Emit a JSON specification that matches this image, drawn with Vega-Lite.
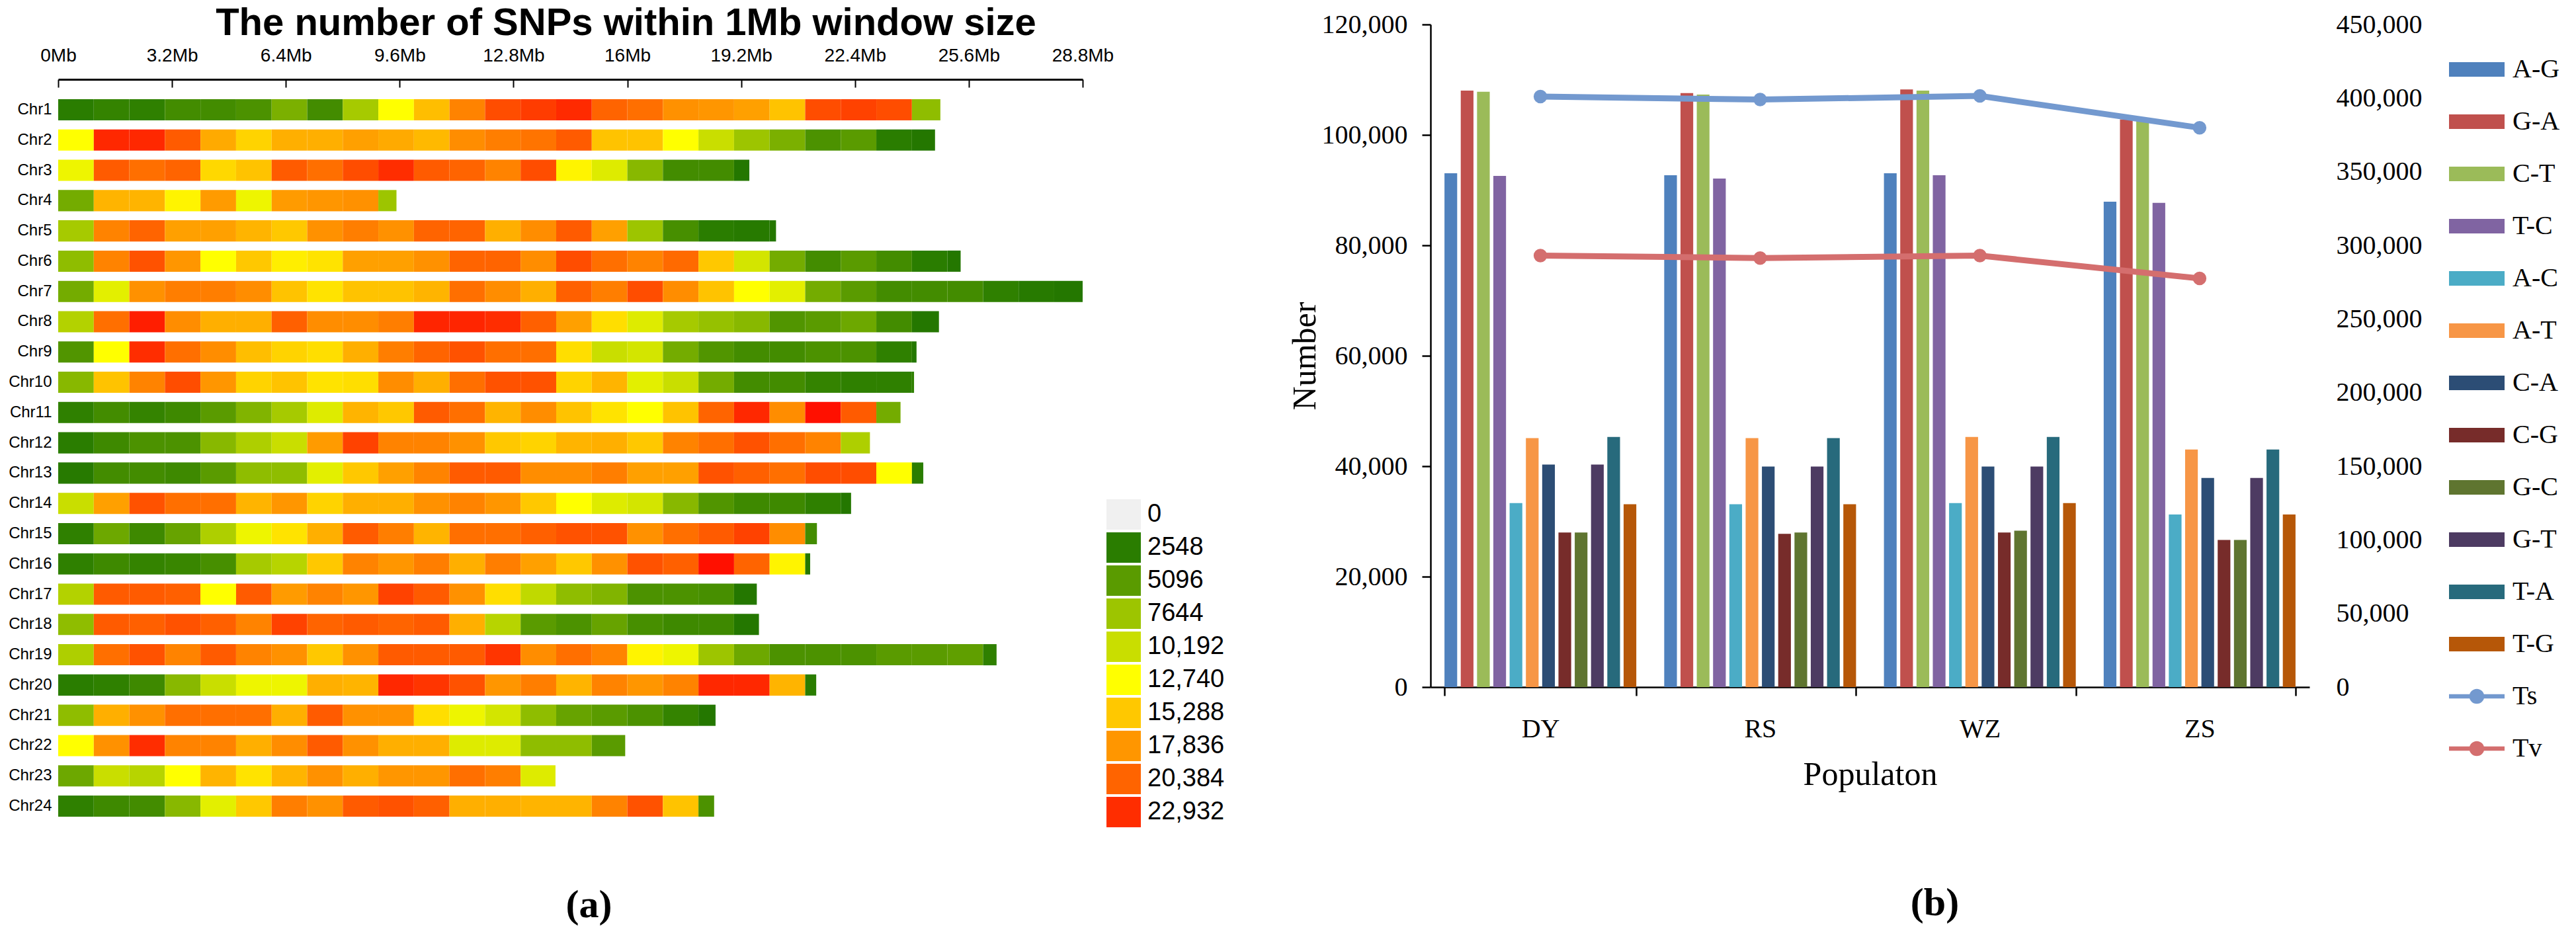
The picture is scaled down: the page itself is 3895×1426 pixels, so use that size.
{
  "$schema": "https://vega.github.io/schema/vega-lite/v6.json",
  "background": "white",
  "padding": {"left": 12, "top": 6, "right": 0, "bottom": 0},
  "spacing": 96,
  "config": {"view": {"stroke": null}},
  "resolve": {"scale": {"color": "independent", "x": "independent", "y": "independent"}, "legend": {"color": "independent"}},
  "hconcat": [
    {
      "width": 1549,
      "height": 1370,
      "title": {"text": "(a)", "orient": "bottom", "font": "Liberation Serif", "fontSize": 60, "fontWeight": "bold", "color": "#000", "offset": -67, "anchor": "middle", "frame": "group", "dx": 28, "baseline": "top"},
      "data": {"values": [
        {"c":"Chr1","s":0,"e":1,"v":2548},{"c":"Chr1","s":1,"e":2,"v":3058},{"c":"Chr1","s":2,"e":3,"v":2803},{"c":"Chr1","s":3,"e":4,"v":3822},{"c":"Chr1","s":4,"e":5,"v":3822},{"c":"Chr1","s":5,"e":6,"v":4332},{"c":"Chr1","s":6,"e":7,"v":6370},{"c":"Chr1","s":7,"e":8,"v":3822},{"c":"Chr1","s":8,"e":9,"v":8154},{"c":"Chr1","s":9,"e":10,"v":12740},{"c":"Chr1","s":10,"e":11,"v":15798},{"c":"Chr1","s":11,"e":12,"v":18855},{"c":"Chr1","s":12,"e":13,"v":21658},{"c":"Chr1","s":13,"e":14,"v":22422},{"c":"Chr1","s":14,"e":15,"v":23187},{"c":"Chr1","s":15,"e":16,"v":20384},{"c":"Chr1","s":16,"e":17,"v":19874},{"c":"Chr1","s":17,"e":18,"v":18091},{"c":"Chr1","s":18,"e":19,"v":17836},{"c":"Chr1","s":19,"e":20,"v":17326},{"c":"Chr1","s":20,"e":21,"v":15543},{"c":"Chr1","s":21,"e":22,"v":21658},{"c":"Chr1","s":22,"e":23,"v":22168},{"c":"Chr1","s":23,"e":24,"v":21658},{"c":"Chr1","s":24,"e":24.8,"v":7134},
        {"c":"Chr2","s":0,"e":1,"v":12740},{"c":"Chr2","s":1,"e":2,"v":23442},{"c":"Chr2","s":2,"e":3,"v":23442},{"c":"Chr2","s":3,"e":4,"v":20894},{"c":"Chr2","s":4,"e":5,"v":16817},{"c":"Chr2","s":5,"e":6,"v":14778},{"c":"Chr2","s":6,"e":7,"v":16562},{"c":"Chr2","s":7,"e":8,"v":16562},{"c":"Chr2","s":8,"e":9,"v":17326},{"c":"Chr2","s":9,"e":10,"v":16817},{"c":"Chr2","s":10,"e":11,"v":16052},{"c":"Chr2","s":11,"e":12,"v":18346},{"c":"Chr2","s":12,"e":13,"v":19110},{"c":"Chr2","s":13,"e":14,"v":19620},{"c":"Chr2","s":14,"e":15,"v":20894},{"c":"Chr2","s":15,"e":16,"v":15543},{"c":"Chr2","s":16,"e":17,"v":15543},{"c":"Chr2","s":17,"e":18,"v":12740},{"c":"Chr2","s":18,"e":19,"v":10192},{"c":"Chr2","s":19,"e":20,"v":7644},{"c":"Chr2","s":20,"e":21,"v":6370},{"c":"Chr2","s":21,"e":22,"v":4332},{"c":"Chr2","s":22,"e":23,"v":5096},{"c":"Chr2","s":23,"e":24,"v":2548},{"c":"Chr2","s":24,"e":24.65,"v":2038},
        {"c":"Chr3","s":0,"e":1,"v":11976},{"c":"Chr3","s":1,"e":2,"v":20894},{"c":"Chr3","s":2,"e":3,"v":19874},{"c":"Chr3","s":3,"e":4,"v":20384},{"c":"Chr3","s":4,"e":5,"v":14524},{"c":"Chr3","s":5,"e":6,"v":15543},{"c":"Chr3","s":6,"e":7,"v":20894},{"c":"Chr3","s":7,"e":8,"v":19874},{"c":"Chr3","s":8,"e":9,"v":21658},{"c":"Chr3","s":9,"e":10,"v":22932},{"c":"Chr3","s":10,"e":11,"v":20894},{"c":"Chr3","s":11,"e":12,"v":20384},{"c":"Chr3","s":12,"e":13,"v":18855},{"c":"Chr3","s":13,"e":14,"v":21658},{"c":"Chr3","s":14,"e":15,"v":13250},{"c":"Chr3","s":15,"e":16,"v":11211},{"c":"Chr3","s":16,"e":17,"v":6880},{"c":"Chr3","s":17,"e":18,"v":3822},{"c":"Chr3","s":18,"e":19,"v":3822},{"c":"Chr3","s":19,"e":19.43,"v":2038},
        {"c":"Chr4","s":0,"e":1,"v":6115},{"c":"Chr4","s":1,"e":2,"v":16307},{"c":"Chr4","s":2,"e":3,"v":16307},{"c":"Chr4","s":3,"e":4,"v":13250},{"c":"Chr4","s":4,"e":5,"v":17581},{"c":"Chr4","s":5,"e":6,"v":11976},{"c":"Chr4","s":6,"e":7,"v":17581},{"c":"Chr4","s":7,"e":8,"v":17836},{"c":"Chr4","s":8,"e":9,"v":18091},{"c":"Chr4","s":9,"e":9.51,"v":7644},
        {"c":"Chr5","s":0,"e":1,"v":8154},{"c":"Chr5","s":1,"e":2,"v":18855},{"c":"Chr5","s":2,"e":3,"v":20384},{"c":"Chr5","s":3,"e":4,"v":17326},{"c":"Chr5","s":4,"e":5,"v":17326},{"c":"Chr5","s":5,"e":6,"v":16307},{"c":"Chr5","s":6,"e":7,"v":15288},{"c":"Chr5","s":7,"e":8,"v":18091},{"c":"Chr5","s":8,"e":9,"v":19110},{"c":"Chr5","s":9,"e":10,"v":18091},{"c":"Chr5","s":10,"e":11,"v":20384},{"c":"Chr5","s":11,"e":12,"v":20384},{"c":"Chr5","s":12,"e":13,"v":16562},{"c":"Chr5","s":13,"e":14,"v":18346},{"c":"Chr5","s":14,"e":15,"v":20894},{"c":"Chr5","s":15,"e":16,"v":17326},{"c":"Chr5","s":16,"e":17,"v":7644},{"c":"Chr5","s":17,"e":18,"v":4077},{"c":"Chr5","s":18,"e":19,"v":2548},{"c":"Chr5","s":19,"e":20,"v":2293},{"c":"Chr5","s":20,"e":20.18,"v":2038},
        {"c":"Chr6","s":0,"e":1,"v":7134},{"c":"Chr6","s":1,"e":2,"v":18855},{"c":"Chr6","s":2,"e":3,"v":21403},{"c":"Chr6","s":3,"e":4,"v":17836},{"c":"Chr6","s":4,"e":5,"v":12740},{"c":"Chr6","s":5,"e":6,"v":15288},{"c":"Chr6","s":6,"e":7,"v":13504},{"c":"Chr6","s":7,"e":8,"v":14014},{"c":"Chr6","s":8,"e":9,"v":17326},{"c":"Chr6","s":9,"e":10,"v":17326},{"c":"Chr6","s":10,"e":11,"v":18091},{"c":"Chr6","s":11,"e":12,"v":20384},{"c":"Chr6","s":12,"e":13,"v":20384},{"c":"Chr6","s":13,"e":14,"v":18346},{"c":"Chr6","s":14,"e":15,"v":21658},{"c":"Chr6","s":15,"e":16,"v":19874},{"c":"Chr6","s":16,"e":17,"v":18855},{"c":"Chr6","s":17,"e":18,"v":20129},{"c":"Chr6","s":18,"e":19,"v":15288},{"c":"Chr6","s":19,"e":20,"v":10702},{"c":"Chr6","s":20,"e":21,"v":6115},{"c":"Chr6","s":21,"e":22,"v":3822},{"c":"Chr6","s":22,"e":23,"v":5096},{"c":"Chr6","s":23,"e":24,"v":3822},{"c":"Chr6","s":24,"e":25,"v":2548},{"c":"Chr6","s":25,"e":25.37,"v":2038},
        {"c":"Chr7","s":0,"e":1,"v":6115},{"c":"Chr7","s":1,"e":2,"v":11466},{"c":"Chr7","s":2,"e":3,"v":18091},{"c":"Chr7","s":3,"e":4,"v":19110},{"c":"Chr7","s":4,"e":5,"v":19110},{"c":"Chr7","s":5,"e":6,"v":18346},{"c":"Chr7","s":6,"e":7,"v":15543},{"c":"Chr7","s":7,"e":8,"v":14014},{"c":"Chr7","s":8,"e":9,"v":15543},{"c":"Chr7","s":9,"e":10,"v":15543},{"c":"Chr7","s":10,"e":11,"v":16307},{"c":"Chr7","s":11,"e":12,"v":19874},{"c":"Chr7","s":12,"e":13,"v":18346},{"c":"Chr7","s":13,"e":14,"v":16562},{"c":"Chr7","s":14,"e":15,"v":20639},{"c":"Chr7","s":15,"e":16,"v":19110},{"c":"Chr7","s":16,"e":17,"v":21658},{"c":"Chr7","s":17,"e":18,"v":18346},{"c":"Chr7","s":18,"e":19,"v":15543},{"c":"Chr7","s":19,"e":20,"v":12740},{"c":"Chr7","s":20,"e":21,"v":11466},{"c":"Chr7","s":21,"e":22,"v":6115},{"c":"Chr7","s":22,"e":23,"v":5096},{"c":"Chr7","s":23,"e":24,"v":3822},{"c":"Chr7","s":24,"e":25,"v":3822},{"c":"Chr7","s":25,"e":26,"v":3822},{"c":"Chr7","s":26,"e":27,"v":2803},{"c":"Chr7","s":27,"e":28,"v":2293},{"c":"Chr7","s":28,"e":28.8,"v":2038},
        {"c":"Chr8","s":0,"e":1,"v":8918},{"c":"Chr8","s":1,"e":2,"v":19874},{"c":"Chr8","s":2,"e":3,"v":24206},{"c":"Chr8","s":3,"e":4,"v":18346},{"c":"Chr8","s":4,"e":5,"v":16562},{"c":"Chr8","s":5,"e":6,"v":16562},{"c":"Chr8","s":6,"e":7,"v":20639},{"c":"Chr8","s":7,"e":8,"v":18346},{"c":"Chr8","s":8,"e":9,"v":18346},{"c":"Chr8","s":9,"e":10,"v":19110},{"c":"Chr8","s":10,"e":11,"v":23696},{"c":"Chr8","s":11,"e":12,"v":23696},{"c":"Chr8","s":12,"e":13,"v":22932},{"c":"Chr8","s":13,"e":14,"v":20639},{"c":"Chr8","s":14,"e":15,"v":17326},{"c":"Chr8","s":15,"e":16,"v":14269},{"c":"Chr8","s":16,"e":17,"v":11211},{"c":"Chr8","s":17,"e":18,"v":8154},{"c":"Chr8","s":18,"e":19,"v":7389},{"c":"Chr8","s":19,"e":20,"v":6880},{"c":"Chr8","s":20,"e":21,"v":4586},{"c":"Chr8","s":21,"e":22,"v":5096},{"c":"Chr8","s":22,"e":23,"v":5860},{"c":"Chr8","s":23,"e":24,"v":3822},{"c":"Chr8","s":24,"e":24.76,"v":2038},
        {"c":"Chr9","s":0,"e":1,"v":4586},{"c":"Chr9","s":1,"e":2,"v":12740},{"c":"Chr9","s":2,"e":3,"v":22932},{"c":"Chr9","s":3,"e":4,"v":19874},{"c":"Chr9","s":4,"e":5,"v":18346},{"c":"Chr9","s":5,"e":6,"v":15798},{"c":"Chr9","s":6,"e":7,"v":14778},{"c":"Chr9","s":7,"e":8,"v":14269},{"c":"Chr9","s":8,"e":9,"v":16562},{"c":"Chr9","s":9,"e":10,"v":19110},{"c":"Chr9","s":10,"e":11,"v":20384},{"c":"Chr9","s":11,"e":12,"v":21403},{"c":"Chr9","s":12,"e":13,"v":19874},{"c":"Chr9","s":13,"e":14,"v":19874},{"c":"Chr9","s":14,"e":15,"v":14269},{"c":"Chr9","s":15,"e":16,"v":10192},{"c":"Chr9","s":16,"e":17,"v":10702},{"c":"Chr9","s":17,"e":18,"v":6115},{"c":"Chr9","s":18,"e":19,"v":4586},{"c":"Chr9","s":19,"e":20,"v":3822},{"c":"Chr9","s":20,"e":21,"v":3822},{"c":"Chr9","s":21,"e":22,"v":4332},{"c":"Chr9","s":22,"e":23,"v":4332},{"c":"Chr9","s":23,"e":24,"v":2803},{"c":"Chr9","s":24,"e":24.13,"v":2038},
        {"c":"Chr10","s":0,"e":1,"v":6880},{"c":"Chr10","s":1,"e":2,"v":15543},{"c":"Chr10","s":2,"e":3,"v":18855},{"c":"Chr10","s":3,"e":4,"v":21658},{"c":"Chr10","s":4,"e":5,"v":17836},{"c":"Chr10","s":5,"e":6,"v":14778},{"c":"Chr10","s":6,"e":7,"v":15543},{"c":"Chr10","s":7,"e":8,"v":14014},{"c":"Chr10","s":8,"e":9,"v":14269},{"c":"Chr10","s":9,"e":10,"v":18346},{"c":"Chr10","s":10,"e":11,"v":16562},{"c":"Chr10","s":11,"e":12,"v":19874},{"c":"Chr10","s":12,"e":13,"v":21403},{"c":"Chr10","s":13,"e":14,"v":21403},{"c":"Chr10","s":14,"e":15,"v":14778},{"c":"Chr10","s":15,"e":16,"v":16307},{"c":"Chr10","s":16,"e":17,"v":11466},{"c":"Chr10","s":17,"e":18,"v":10192},{"c":"Chr10","s":18,"e":19,"v":6115},{"c":"Chr10","s":19,"e":20,"v":3822},{"c":"Chr10","s":20,"e":21,"v":3822},{"c":"Chr10","s":21,"e":22,"v":3058},{"c":"Chr10","s":22,"e":23,"v":2803},{"c":"Chr10","s":23,"e":24,"v":2803},{"c":"Chr10","s":24,"e":24.06,"v":2803},
        {"c":"Chr11","s":0,"e":1,"v":2803},{"c":"Chr11","s":1,"e":2,"v":3822},{"c":"Chr11","s":2,"e":3,"v":3058},{"c":"Chr11","s":3,"e":4,"v":3567},{"c":"Chr11","s":4,"e":5,"v":5096},{"c":"Chr11","s":5,"e":6,"v":6625},{"c":"Chr11","s":6,"e":7,"v":8154},{"c":"Chr11","s":7,"e":8,"v":11211},{"c":"Chr11","s":8,"e":9,"v":16307},{"c":"Chr11","s":9,"e":10,"v":15288},{"c":"Chr11","s":10,"e":11,"v":20894},{"c":"Chr11","s":11,"e":12,"v":19874},{"c":"Chr11","s":12,"e":13,"v":16307},{"c":"Chr11","s":13,"e":14,"v":18346},{"c":"Chr11","s":14,"e":15,"v":15543},{"c":"Chr11","s":15,"e":16,"v":14014},{"c":"Chr11","s":16,"e":17,"v":12740},{"c":"Chr11","s":17,"e":18,"v":15543},{"c":"Chr11","s":18,"e":19,"v":20384},{"c":"Chr11","s":19,"e":20,"v":23442},{"c":"Chr11","s":20,"e":21,"v":18346},{"c":"Chr11","s":21,"e":22,"v":24970},{"c":"Chr11","s":22,"e":23,"v":20894},{"c":"Chr11","s":23,"e":23.68,"v":6115},
        {"c":"Chr12","s":0,"e":1,"v":2548},{"c":"Chr12","s":1,"e":2,"v":3567},{"c":"Chr12","s":2,"e":3,"v":4332},{"c":"Chr12","s":3,"e":4,"v":4332},{"c":"Chr12","s":4,"e":5,"v":6880},{"c":"Chr12","s":5,"e":6,"v":8663},{"c":"Chr12","s":6,"e":7,"v":10192},{"c":"Chr12","s":7,"e":8,"v":17581},{"c":"Chr12","s":8,"e":9,"v":22168},{"c":"Chr12","s":9,"e":10,"v":18855},{"c":"Chr12","s":10,"e":11,"v":18855},{"c":"Chr12","s":11,"e":12,"v":18091},{"c":"Chr12","s":12,"e":13,"v":15288},{"c":"Chr12","s":13,"e":14,"v":14778},{"c":"Chr12","s":14,"e":15,"v":16307},{"c":"Chr12","s":15,"e":16,"v":16562},{"c":"Chr12","s":16,"e":17,"v":15288},{"c":"Chr12","s":17,"e":18,"v":18855},{"c":"Chr12","s":18,"e":19,"v":19874},{"c":"Chr12","s":19,"e":20,"v":21403},{"c":"Chr12","s":20,"e":21,"v":19874},{"c":"Chr12","s":21,"e":22,"v":18855},{"c":"Chr12","s":22,"e":22.82,"v":8663},
        {"c":"Chr13","s":0,"e":1,"v":2293},{"c":"Chr13","s":1,"e":2,"v":3822},{"c":"Chr13","s":2,"e":3,"v":3822},{"c":"Chr13","s":3,"e":4,"v":3567},{"c":"Chr13","s":4,"e":5,"v":5096},{"c":"Chr13","s":5,"e":6,"v":7134},{"c":"Chr13","s":6,"e":7,"v":7134},{"c":"Chr13","s":7,"e":8,"v":11466},{"c":"Chr13","s":8,"e":9,"v":15288},{"c":"Chr13","s":9,"e":10,"v":17326},{"c":"Chr13","s":10,"e":11,"v":18855},{"c":"Chr13","s":11,"e":12,"v":20894},{"c":"Chr13","s":12,"e":13,"v":20894},{"c":"Chr13","s":13,"e":14,"v":18346},{"c":"Chr13","s":14,"e":15,"v":18346},{"c":"Chr13","s":15,"e":16,"v":19110},{"c":"Chr13","s":16,"e":17,"v":17326},{"c":"Chr13","s":17,"e":18,"v":17326},{"c":"Chr13","s":18,"e":19,"v":21403},{"c":"Chr13","s":19,"e":20,"v":20639},{"c":"Chr13","s":20,"e":21,"v":19874},{"c":"Chr13","s":21,"e":22,"v":21658},{"c":"Chr13","s":22,"e":23,"v":21658},{"c":"Chr13","s":23,"e":24,"v":12740},{"c":"Chr13","s":24,"e":24.32,"v":2548},
        {"c":"Chr14","s":0,"e":1,"v":10192},{"c":"Chr14","s":1,"e":2,"v":17326},{"c":"Chr14","s":2,"e":3,"v":21403},{"c":"Chr14","s":3,"e":4,"v":19874},{"c":"Chr14","s":4,"e":5,"v":19874},{"c":"Chr14","s":5,"e":6,"v":16307},{"c":"Chr14","s":6,"e":7,"v":17836},{"c":"Chr14","s":7,"e":8,"v":14778},{"c":"Chr14","s":8,"e":9,"v":16562},{"c":"Chr14","s":9,"e":10,"v":16562},{"c":"Chr14","s":10,"e":11,"v":18091},{"c":"Chr14","s":11,"e":12,"v":18855},{"c":"Chr14","s":12,"e":13,"v":17836},{"c":"Chr14","s":13,"e":14,"v":15288},{"c":"Chr14","s":14,"e":15,"v":12740},{"c":"Chr14","s":15,"e":16,"v":11211},{"c":"Chr14","s":16,"e":17,"v":10702},{"c":"Chr14","s":17,"e":18,"v":6880},{"c":"Chr14","s":18,"e":19,"v":4586},{"c":"Chr14","s":19,"e":20,"v":3567},{"c":"Chr14","s":20,"e":21,"v":3567},{"c":"Chr14","s":21,"e":22,"v":2803},{"c":"Chr14","s":22,"e":22.29,"v":2038},
        {"c":"Chr15","s":0,"e":1,"v":2803},{"c":"Chr15","s":1,"e":2,"v":5860},{"c":"Chr15","s":2,"e":3,"v":3567},{"c":"Chr15","s":3,"e":4,"v":5606},{"c":"Chr15","s":4,"e":5,"v":8663},{"c":"Chr15","s":5,"e":6,"v":11976},{"c":"Chr15","s":6,"e":7,"v":14014},{"c":"Chr15","s":7,"e":8,"v":16562},{"c":"Chr15","s":8,"e":9,"v":20894},{"c":"Chr15","s":9,"e":10,"v":19110},{"c":"Chr15","s":10,"e":11,"v":16307},{"c":"Chr15","s":11,"e":12,"v":19874},{"c":"Chr15","s":12,"e":13,"v":19874},{"c":"Chr15","s":13,"e":14,"v":20639},{"c":"Chr15","s":14,"e":15,"v":21403},{"c":"Chr15","s":15,"e":16,"v":21403},{"c":"Chr15","s":16,"e":17,"v":18091},{"c":"Chr15","s":17,"e":18,"v":19874},{"c":"Chr15","s":18,"e":19,"v":20894},{"c":"Chr15","s":19,"e":20,"v":22168},{"c":"Chr15","s":20,"e":21,"v":18346},{"c":"Chr15","s":21,"e":21.33,"v":3822},
        {"c":"Chr16","s":0,"e":1,"v":2803},{"c":"Chr16","s":1,"e":2,"v":3567},{"c":"Chr16","s":2,"e":3,"v":3058},{"c":"Chr16","s":3,"e":4,"v":3312},{"c":"Chr16","s":4,"e":5,"v":4077},{"c":"Chr16","s":5,"e":6,"v":8154},{"c":"Chr16","s":6,"e":7,"v":9173},{"c":"Chr16","s":7,"e":8,"v":15288},{"c":"Chr16","s":8,"e":9,"v":18855},{"c":"Chr16","s":9,"e":10,"v":17836},{"c":"Chr16","s":10,"e":11,"v":19110},{"c":"Chr16","s":11,"e":12,"v":16562},{"c":"Chr16","s":12,"e":13,"v":19110},{"c":"Chr16","s":13,"e":14,"v":17326},{"c":"Chr16","s":14,"e":15,"v":15288},{"c":"Chr16","s":15,"e":16,"v":18091},{"c":"Chr16","s":16,"e":17,"v":21403},{"c":"Chr16","s":17,"e":18,"v":20639},{"c":"Chr16","s":18,"e":19,"v":24970},{"c":"Chr16","s":19,"e":20,"v":20384},{"c":"Chr16","s":20,"e":21,"v":13250},{"c":"Chr16","s":21,"e":21.14,"v":2038},
        {"c":"Chr17","s":0,"e":1,"v":8918},{"c":"Chr17","s":1,"e":2,"v":20894},{"c":"Chr17","s":2,"e":3,"v":20894},{"c":"Chr17","s":3,"e":4,"v":20639},{"c":"Chr17","s":4,"e":5,"v":12740},{"c":"Chr17","s":5,"e":6,"v":20894},{"c":"Chr17","s":6,"e":7,"v":17581},{"c":"Chr17","s":7,"e":8,"v":18855},{"c":"Chr17","s":8,"e":9,"v":17836},{"c":"Chr17","s":9,"e":10,"v":22168},{"c":"Chr17","s":10,"e":11,"v":20894},{"c":"Chr17","s":11,"e":12,"v":18091},{"c":"Chr17","s":12,"e":13,"v":14269},{"c":"Chr17","s":13,"e":14,"v":9682},{"c":"Chr17","s":14,"e":15,"v":7134},{"c":"Chr17","s":15,"e":16,"v":6625},{"c":"Chr17","s":16,"e":17,"v":4332},{"c":"Chr17","s":17,"e":18,"v":4332},{"c":"Chr17","s":18,"e":19,"v":4077},{"c":"Chr17","s":19,"e":19.64,"v":2038},
        {"c":"Chr18","s":0,"e":1,"v":7134},{"c":"Chr18","s":1,"e":2,"v":20894},{"c":"Chr18","s":2,"e":3,"v":20639},{"c":"Chr18","s":3,"e":4,"v":21403},{"c":"Chr18","s":4,"e":5,"v":20639},{"c":"Chr18","s":5,"e":6,"v":18855},{"c":"Chr18","s":6,"e":7,"v":22168},{"c":"Chr18","s":7,"e":8,"v":20384},{"c":"Chr18","s":8,"e":9,"v":20894},{"c":"Chr18","s":9,"e":10,"v":20384},{"c":"Chr18","s":10,"e":11,"v":20894},{"c":"Chr18","s":11,"e":12,"v":16562},{"c":"Chr18","s":12,"e":13,"v":9173},{"c":"Chr18","s":13,"e":14,"v":5096},{"c":"Chr18","s":14,"e":15,"v":4332},{"c":"Chr18","s":15,"e":16,"v":5606},{"c":"Chr18","s":16,"e":17,"v":4077},{"c":"Chr18","s":17,"e":18,"v":3567},{"c":"Chr18","s":18,"e":19,"v":3567},{"c":"Chr18","s":19,"e":19.7,"v":2038},
        {"c":"Chr19","s":0,"e":1,"v":8663},{"c":"Chr19","s":1,"e":2,"v":19874},{"c":"Chr19","s":2,"e":3,"v":21403},{"c":"Chr19","s":3,"e":4,"v":18855},{"c":"Chr19","s":4,"e":5,"v":20894},{"c":"Chr19","s":5,"e":6,"v":18855},{"c":"Chr19","s":6,"e":7,"v":18091},{"c":"Chr19","s":7,"e":8,"v":15288},{"c":"Chr19","s":8,"e":9,"v":18091},{"c":"Chr19","s":9,"e":10,"v":20894},{"c":"Chr19","s":10,"e":11,"v":20894},{"c":"Chr19","s":11,"e":12,"v":20894},{"c":"Chr19","s":12,"e":13,"v":22677},{"c":"Chr19","s":13,"e":14,"v":18346},{"c":"Chr19","s":14,"e":15,"v":19874},{"c":"Chr19","s":15,"e":16,"v":18855},{"c":"Chr19","s":16,"e":17,"v":13250},{"c":"Chr19","s":17,"e":18,"v":11976},{"c":"Chr19","s":18,"e":19,"v":7644},{"c":"Chr19","s":19,"e":20,"v":5860},{"c":"Chr19","s":20,"e":21,"v":4332},{"c":"Chr19","s":21,"e":22,"v":4332},{"c":"Chr19","s":22,"e":23,"v":4332},{"c":"Chr19","s":23,"e":24,"v":5096},{"c":"Chr19","s":24,"e":25,"v":5096},{"c":"Chr19","s":25,"e":26,"v":5351},{"c":"Chr19","s":26,"e":26.38,"v":2803},
        {"c":"Chr20","s":0,"e":1,"v":2548},{"c":"Chr20","s":1,"e":2,"v":2803},{"c":"Chr20","s":2,"e":3,"v":3567},{"c":"Chr20","s":3,"e":4,"v":6880},{"c":"Chr20","s":4,"e":5,"v":10192},{"c":"Chr20","s":5,"e":6,"v":11976},{"c":"Chr20","s":6,"e":7,"v":11976},{"c":"Chr20","s":7,"e":8,"v":16562},{"c":"Chr20","s":8,"e":9,"v":16307},{"c":"Chr20","s":9,"e":10,"v":23442},{"c":"Chr20","s":10,"e":11,"v":22677},{"c":"Chr20","s":11,"e":12,"v":21403},{"c":"Chr20","s":12,"e":13,"v":17836},{"c":"Chr20","s":13,"e":14,"v":19110},{"c":"Chr20","s":14,"e":15,"v":16307},{"c":"Chr20","s":15,"e":16,"v":18855},{"c":"Chr20","s":16,"e":17,"v":17836},{"c":"Chr20","s":17,"e":18,"v":18855},{"c":"Chr20","s":18,"e":19,"v":23442},{"c":"Chr20","s":19,"e":20,"v":23442},{"c":"Chr20","s":20,"e":21,"v":16307},{"c":"Chr20","s":21,"e":21.31,"v":2548},
        {"c":"Chr21","s":0,"e":1,"v":7134},{"c":"Chr21","s":1,"e":2,"v":16562},{"c":"Chr21","s":2,"e":3,"v":18091},{"c":"Chr21","s":3,"e":4,"v":19874},{"c":"Chr21","s":4,"e":5,"v":19874},{"c":"Chr21","s":5,"e":6,"v":19874},{"c":"Chr21","s":6,"e":7,"v":16562},{"c":"Chr21","s":7,"e":8,"v":20894},{"c":"Chr21","s":8,"e":9,"v":18091},{"c":"Chr21","s":9,"e":10,"v":18091},{"c":"Chr21","s":10,"e":11,"v":14269},{"c":"Chr21","s":11,"e":12,"v":11976},{"c":"Chr21","s":12,"e":13,"v":10702},{"c":"Chr21","s":13,"e":14,"v":7134},{"c":"Chr21","s":14,"e":15,"v":5606},{"c":"Chr21","s":15,"e":16,"v":5096},{"c":"Chr21","s":16,"e":17,"v":4332},{"c":"Chr21","s":17,"e":18,"v":3058},{"c":"Chr21","s":18,"e":18.48,"v":2038},
        {"c":"Chr22","s":0,"e":1,"v":12740},{"c":"Chr22","s":1,"e":2,"v":18091},{"c":"Chr22","s":2,"e":3,"v":22932},{"c":"Chr22","s":3,"e":4,"v":18855},{"c":"Chr22","s":4,"e":5,"v":18855},{"c":"Chr22","s":5,"e":6,"v":16562},{"c":"Chr22","s":6,"e":7,"v":18346},{"c":"Chr22","s":7,"e":8,"v":20894},{"c":"Chr22","s":8,"e":9,"v":18091},{"c":"Chr22","s":9,"e":10,"v":16562},{"c":"Chr22","s":10,"e":11,"v":16562},{"c":"Chr22","s":11,"e":12,"v":11211},{"c":"Chr22","s":12,"e":13,"v":11211},{"c":"Chr22","s":13,"e":14,"v":7134},{"c":"Chr22","s":14,"e":15,"v":7134},{"c":"Chr22","s":15,"e":15.94,"v":5096},
        {"c":"Chr23","s":0,"e":1,"v":5860},{"c":"Chr23","s":1,"e":2,"v":10192},{"c":"Chr23","s":2,"e":3,"v":9173},{"c":"Chr23","s":3,"e":4,"v":12740},{"c":"Chr23","s":4,"e":5,"v":16307},{"c":"Chr23","s":5,"e":6,"v":14014},{"c":"Chr23","s":6,"e":7,"v":16307},{"c":"Chr23","s":7,"e":8,"v":18091},{"c":"Chr23","s":8,"e":9,"v":16562},{"c":"Chr23","s":9,"e":10,"v":17836},{"c":"Chr23","s":10,"e":11,"v":17836},{"c":"Chr23","s":11,"e":12,"v":19874},{"c":"Chr23","s":12,"e":13,"v":19110},{"c":"Chr23","s":13,"e":13.98,"v":11211},
        {"c":"Chr24","s":0,"e":1,"v":2803},{"c":"Chr24","s":1,"e":2,"v":3567},{"c":"Chr24","s":2,"e":3,"v":3822},{"c":"Chr24","s":3,"e":4,"v":6880},{"c":"Chr24","s":4,"e":5,"v":11466},{"c":"Chr24","s":5,"e":6,"v":15288},{"c":"Chr24","s":6,"e":7,"v":19110},{"c":"Chr24","s":7,"e":8,"v":18091},{"c":"Chr24","s":8,"e":9,"v":20894},{"c":"Chr24","s":9,"e":10,"v":21403},{"c":"Chr24","s":10,"e":11,"v":20639},{"c":"Chr24","s":11,"e":12,"v":16562},{"c":"Chr24","s":12,"e":13,"v":16562},{"c":"Chr24","s":13,"e":14,"v":16307},{"c":"Chr24","s":14,"e":15,"v":16307},{"c":"Chr24","s":15,"e":16,"v":18855},{"c":"Chr24","s":16,"e":17,"v":21403},{"c":"Chr24","s":17,"e":18,"v":15543},{"c":"Chr24","s":18,"e":18.44,"v":4332}
      ]},
      "mark": {"type": "rect", "strokeWidth": 0},
      "encoding": {
        "x": {
          "field": "s", "type": "quantitative",
          "scale": {"domain": [0, 28.8], "nice": false, "zero": false},
          "axis": {
            "orient": "top", "offset": -83,
            "values": [0, 3.2, 6.4, 9.6, 12.8, 16, 19.2, 22.4, 25.6, 28.8],
            "labelExpr": "datum.value + 'Mb'",
            "labelFont": "Liberation Sans", "labelFontSize": 28, "labelColor": "#000",
            "labelFlush": false, "labelOverlap": false, "labelPadding": 34,
            "tickSize": -12, "tickColor": "#000", "tickWidth": 2,
            "domainColor": "#000", "domainWidth": 3, "grid": false,
            "title": "The number of SNPs within 1Mb window size",
            "titleFont": "Liberation Sans", "titleFontSize": 58, "titleFontWeight": "bold", "titleColor": "#000",
            "titlePadding": 6, "titleX": 858, "titleAlign": "center"
          }
        },
        "x2": {"field": "e"},
        "y": {
          "field": "c", "type": "nominal",
          "scale": {
            "domain": ["Chr1","Chr2","Chr3","Chr4","Chr5","Chr6","Chr7","Chr8","Chr9","Chr10","Chr11","Chr12","Chr13","Chr14","Chr15","Chr16","Chr17","Chr18","Chr19","Chr20","Chr21","Chr22","Chr23","Chr24"],
            "range": [113, 1198], "paddingInner": 0.3, "paddingOuter": 0
          },
          "axis": {"title": null, "domain": false, "ticks": false, "labelFont": "Liberation Sans", "labelFontSize": 24, "labelColor": "#000", "labelPadding": 10}
        },
        "color": {
          "field": "v", "type": "quantitative",
          "scale": {
            "domain": [0, 1, 2548, 5096, 7644, 10192, 12740, 15288, 17836, 20384, 22932, 25480],
            "range": ["#f0f0f0", "#0b5e00", "#2a7d00", "#5a9b00", "#9dc500", "#c9de00", "#ffff00", "#ffc800", "#ff9600", "#ff6400", "#ff2d00", "#ff0000"]
          },
          "legend": {
            "type": "symbol", "direction": "vertical", "title": null,
            "values": [0, 2548, 5096, 7644, 10192, 12740, 15288, 17836, 20384, 22932],
            "orient": "none", "legendX": 1585, "legendY": 715,
            "symbolType": "M-1,-0.885H1V0.885H-1Z", "symbolSize": 2704, "symbolStrokeWidth": 0, "symbolOpacity": 1,
            "labelFont": "Liberation Sans", "labelFontSize": 38, "labelColor": "#000", "labelOffset": 10,
            "rowPadding": 0,
            "labelExpr": "datum.value < 10000 ? '' + datum.value : format(datum.value, ',')"
          }
        }
      }
    },
    {
      "width": 1329,
      "height": 1002,
      "title": {"text": "(b)", "orient": "bottom", "font": "Liberation Serif", "fontSize": 60, "fontWeight": "bold", "color": "#000", "offset": 141, "anchor": "middle", "frame": "group", "dx": 98, "baseline": "top"},
      "layer": [
        {
          "data": {"values": [
            {"pop":"DY","type":"A-G","value":93050},{"pop":"DY","type":"G-A","value":108020},{"pop":"DY","type":"C-T","value":107800},{"pop":"DY","type":"T-C","value":92570},{"pop":"DY","type":"A-C","value":33320},{"pop":"DY","type":"A-T","value":45080},{"pop":"DY","type":"C-A","value":40290},{"pop":"DY","type":"C-G","value":27980},{"pop":"DY","type":"G-C","value":27980},{"pop":"DY","type":"G-T","value":40290},{"pop":"DY","type":"T-A","value":45300},{"pop":"DY","type":"T-G","value":33100},
            {"pop":"RS","type":"A-G","value":92690},{"pop":"RS","type":"G-A","value":107560},{"pop":"RS","type":"C-T","value":107300},{"pop":"RS","type":"T-C","value":92100},{"pop":"RS","type":"A-C","value":33100},{"pop":"RS","type":"A-T","value":45080},{"pop":"RS","type":"C-A","value":39950},{"pop":"RS","type":"C-G","value":27750},{"pop":"RS","type":"G-C","value":27980},{"pop":"RS","type":"G-T","value":39950},{"pop":"RS","type":"T-A","value":45080},{"pop":"RS","type":"T-G","value":33100},
            {"pop":"WZ","type":"A-G","value":93050},{"pop":"WZ","type":"G-A","value":108240},{"pop":"WZ","type":"C-T","value":108020},{"pop":"WZ","type":"T-C","value":92690},{"pop":"WZ","type":"A-C","value":33320},{"pop":"WZ","type":"A-T","value":45300},{"pop":"WZ","type":"C-A","value":39950},{"pop":"WZ","type":"C-G","value":27980},{"pop":"WZ","type":"G-C","value":28320},{"pop":"WZ","type":"G-T","value":39950},{"pop":"WZ","type":"T-A","value":45300},{"pop":"WZ","type":"T-G","value":33320},
            {"pop":"ZS","type":"A-G","value":87900},{"pop":"ZS","type":"G-A","value":102800},{"pop":"ZS","type":"C-T","value":102600},{"pop":"ZS","type":"T-C","value":87700},{"pop":"ZS","type":"A-C","value":31260},{"pop":"ZS","type":"A-T","value":43010},{"pop":"ZS","type":"C-A","value":37880},{"pop":"ZS","type":"C-G","value":26650},{"pop":"ZS","type":"G-C","value":26650},{"pop":"ZS","type":"G-T","value":37880},{"pop":"ZS","type":"T-A","value":43010},{"pop":"ZS","type":"T-G","value":31260}
          ]},
          "mark": {"type": "bar", "strokeWidth": 0},
          "encoding": {
            "x": {
              "field": "pop", "type": "nominal",
              "scale": {"paddingInner": 0.127, "paddingOuter": 0.0635},
              "axis": {
                "title": "Populaton", "titleFont": "Liberation Serif", "titleFontSize": 50, "titleFontWeight": "normal", "titleColor": "#000", "titlePadding": 24,
                "labelFont": "Liberation Serif", "labelFontSize": 40, "labelColor": "#000", "labelPadding": 30, "labelAngle": 0,
                "domainColor": "#000", "domainWidth": 2.5, "tickColor": "#000", "tickWidth": 2.5, "tickSize": 13, "tickBand": "extent"
              }
            },
            "xOffset": {
              "field": "type", "type": "nominal",
              "scale": {"domain": ["A-G","G-A","C-T","T-C","A-C","A-T","C-A","C-G","G-C","G-T","T-A","T-G"], "paddingInner": 0.22}
            },
            "y": {
              "field": "value", "type": "quantitative",
              "scale": {"domain": [0, 120000], "nice": false},
              "axis": {
                "title": "Number", "titleFont": "Liberation Serif", "titleFontSize": 50, "titleFontWeight": "normal", "titleColor": "#000", "titlePadding": 0,
                "labelFont": "Liberation Serif", "labelFontSize": 40, "labelColor": "#000", "labelPadding": 22,
                "values": [0, 20000, 40000, 60000, 80000, 100000, 120000], "format": ",.0f", "grid": false,
                "domainColor": "#000", "domainWidth": 2.5, "tickColor": "#000", "tickWidth": 2.5, "tickSize": 13
              }
            },
            "color": {
              "field": "type", "type": "nominal",
              "scale": {
                "domain": ["A-G","G-A","C-T","T-C","A-C","A-T","C-A","C-G","G-C","G-T","T-A","T-G","Ts","Tv"],
                "range": ["#4f81bd","#c0504d","#9bbb59","#8064a2","#4bacc6","#f79646","#2c4d75","#772c2a","#5f7530","#4d3b62","#276a7c","#b65708","#7399cf","#d46e6e"]
              },
              "legend": {
                "title": null, "orient": "none", "legendX": 1540, "legendY": 26,
                "symbolSize": 7056, "symbolStrokeWidth": 0, "symbolOpacity": 1,
                "labelFont": "Liberation Serif", "labelFontSize": 40, "labelColor": "#000", "labelOffset": 12,
                "rowPadding": 17,
                "encode": {"symbols": {"update": {"shape": {"signal": "datum.label === 'Ts' || datum.label === 'Tv' ? 'M-1,-0.08H1V0.08H-1Z M0.27,0A0.27,0.27 0 1,1 -0.27,0A0.27,0.27 0 1,1 0.27,0Z' : 'M-1,-0.26H1V0.26H-1Z'"}}}}
              }
            }
          }
        },
        {
          "data": {"values": [
            {"pop":"DY","type":"Ts","value":401050},{"pop":"RS","type":"Ts","value":399000},{"pop":"WZ","type":"Ts","value":401450},{"pop":"ZS","type":"Ts","value":379870},
            {"pop":"DY","type":"Tv","value":293040},{"pop":"RS","type":"Tv","value":291390},{"pop":"WZ","type":"Tv","value":293040},{"pop":"ZS","type":"Tv","value":277530}
          ]},
          "mark": {"type": "line", "strokeWidth": 9, "point": {"filled": true, "size": 420}},
          "encoding": {
            "x": {"field": "pop", "type": "nominal"},
            "y": {
              "field": "value", "type": "quantitative",
              "scale": {"domain": [0, 450000], "nice": false},
              "axis": {
                "orient": "right", "title": null, "domain": false, "ticks": false,
                "labelFont": "Liberation Serif", "labelFontSize": 40, "labelColor": "#000", "labelPadding": 40,
                "values": [0, 50000, 100000, 150000, 200000, 250000, 300000, 350000, 400000, 450000], "format": ",.0f", "grid": false
              }
            },
            "color": {"field": "type", "type": "nominal"}
          }
        }
      ],
      "resolve": {"scale": {"y": "independent"}}
    }
  ]
}
